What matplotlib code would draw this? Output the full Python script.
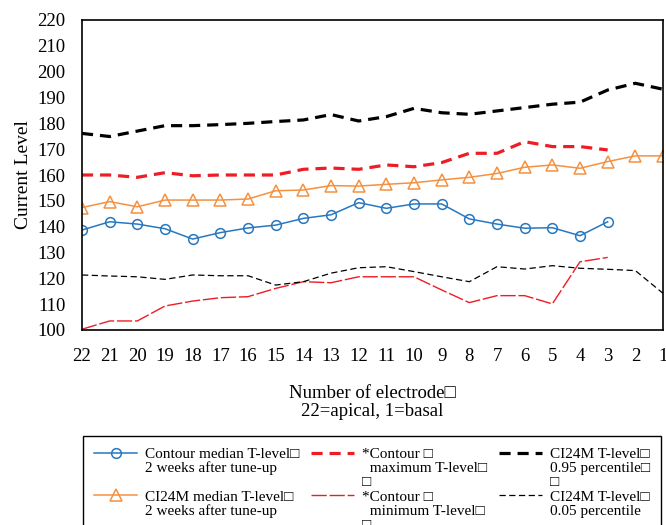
import matplotlib
matplotlib.use('Agg')
import matplotlib.pyplot as plt
from matplotlib.lines import Line2D

plt.rcParams['font.family'] = ['Liberation Serif', 'DejaVu Sans']
plt.rcParams['lines.scale_dashes'] = False

# ---- data ----
electrodes = list(range(22, 0, -1))
tick_labels = [str(e) for e in electrodes]
y_ticks = list(range(100, 221, 10))

contour_median = [138.7, 141.9, 141.0, 139.2, 135.2, 137.7, 139.5, 140.6, 143.2, 144.6,
                  149.3, 147.1, 148.8, 148.8, 143.0, 141.0, 139.4, 139.6, 136.5, 141.9]
ci24m_median = [147.4, 149.7, 147.7, 150.3, 150.3, 150.3, 150.7, 153.9, 154.2, 155.9, 155.7,
                156.4, 157.0, 158.1, 159.1, 160.6, 163.0, 163.9, 162.6, 165.2, 167.4, 167.4]
contour_max = [160.0, 160.0, 159.1, 160.9, 159.7, 160.0, 160.0, 160.0, 162.2, 162.7,
               162.2, 163.9, 163.2, 164.8, 168.4, 168.4, 172.9, 171.0, 171.0, 169.7]
contour_min = [100.3, 103.5, 103.5, 109.3, 111.2, 112.5, 112.9, 116.1, 118.7, 118.3,
               120.6, 120.6, 120.6, 115.5, 110.6, 113.3, 113.3, 110.1, 126.4, 128.1]
ci24m_p95 = [176.1, 174.9, 177.0, 179.1, 179.1, 179.5, 180.0, 180.7, 181.3, 183.4, 180.9,
             182.6, 185.8, 184.1, 183.5, 184.8, 186.1, 187.4, 188.2, 192.9, 195.5, 193.2]
ci24m_p05 = [121.3, 120.9, 120.6, 119.6, 121.3, 121.0, 121.0, 117.4, 118.7, 122.0, 124.1,
             124.5, 122.6, 120.6, 118.7, 124.5, 123.6, 124.9, 123.9, 123.5, 123.0, 114.2]

lab_contour_median = ["Contour median T-level\u25a1", "2 weeks after tune-up"]
lab_ci24m_median = ["CI24M median T-level\u25a1", "2 weeks after tune-up"]
lab_contour_max = ["*Contour \u25a1", "  maximum T-level\u25a1", "\u25a1"]
lab_contour_min = ["*Contour \u25a1", "  minimum T-level\u25a1", "\u25a1"]
lab_p95 = ["CI24M T-level\u25a1", "0.95 percentile\u25a1", "\u25a1"]
lab_p05 = ["CI24M T-level\u25a1", "0.05 percentile"]

x_label = "Number of electrode\u25a1\n22=apical, 1=basal"
y_label = "Current Level"

# ---- styles ----
c_blue = '#2878c0'
c_orange = '#f5913f'
c_red = '#ee1c25'
c_black = '#000000'

fig = plt.figure(figsize=(6.66, 5.25), dpi=100)
ax = fig.add_axes([82 / 666, 1 - 330 / 525, (663 - 82) / 666, (330 - 20) / 525])

n_c = len(contour_median)
h1, = ax.plot(electrodes[:n_c], contour_median, color=c_blue, lw=1.1, marker='o',
              ms=7, mfc='none', mec=c_blue, mew=1.1)
h2, = ax.plot(electrodes, ci24m_median, color=c_orange, lw=1.1, marker='^',
              ms=8, mfc='none', mec=c_orange, mew=1.1)
h3, = ax.plot(electrodes[:len(contour_max)], contour_max, color=c_red, lw=2.3,
              dashes=(8, 5))
h4, = ax.plot(electrodes[:len(contour_min)], contour_min, color=c_red, lw=1.0,
              dashes=(11, 2))
h5, = ax.plot(electrodes, ci24m_p95, color=c_black, lw=2.3, dashes=(8, 5))
h6, = ax.plot(electrodes, ci24m_p05, color=c_black, lw=0.9, dashes=(4.5, 2.5))

ax.set_xlim(22, 1)
ax.set_ylim(100, 220)
ax.set_xticks(electrodes)
ax.set_xticklabels(tick_labels)
ax.set_yticks(y_ticks)
ax.tick_params(axis='both', length=0, labelsize=13.5)
ax.tick_params(axis='x', pad=13)
ax.tick_params(axis='y', pad=12)
for s in ax.spines.values():
    s.set_linewidth(1.2)
    s.set_color('black')
ax.set_ylabel(y_label, fontsize=14, labelpad=4)
ax.set_xlabel(x_label, fontsize=13.5, labelpad=14, linespacing=1.1)

# ---- legend (one entry per text line, handle on first line) ----
blank = Line2D([], [], color='none')
col1_h = [h1, blank, blank, h2, blank, blank]
col1_l = lab_contour_median + [""] + lab_ci24m_median + [""]
col2_h = [h3, blank, blank, h4, blank, blank]
col2_l = lab_contour_max + lab_contour_min
col3_h = [h5, blank, blank, h6, blank, blank]
col3_l = lab_p95 + lab_p05 + [""]

leg = fig.legend(col1_h + col2_h + col3_h, col1_l + col2_l + col3_l,
                 ncol=3, loc='upper left',
                 bbox_to_anchor=(83 / 666, 1 - 436 / 525),
                 bbox_transform=fig.transFigure, borderaxespad=0,
                 fontsize=11, frameon=True, fancybox=False, shadow=False,
                 edgecolor='black', framealpha=1, handlelength=2.8,
                 handletextpad=0.5, columnspacing=0.8, labelspacing=0.03,
                 borderpad=0.75)
leg.get_frame().set_linewidth(1.0)

fig.savefig('out.png', dpi=100)
